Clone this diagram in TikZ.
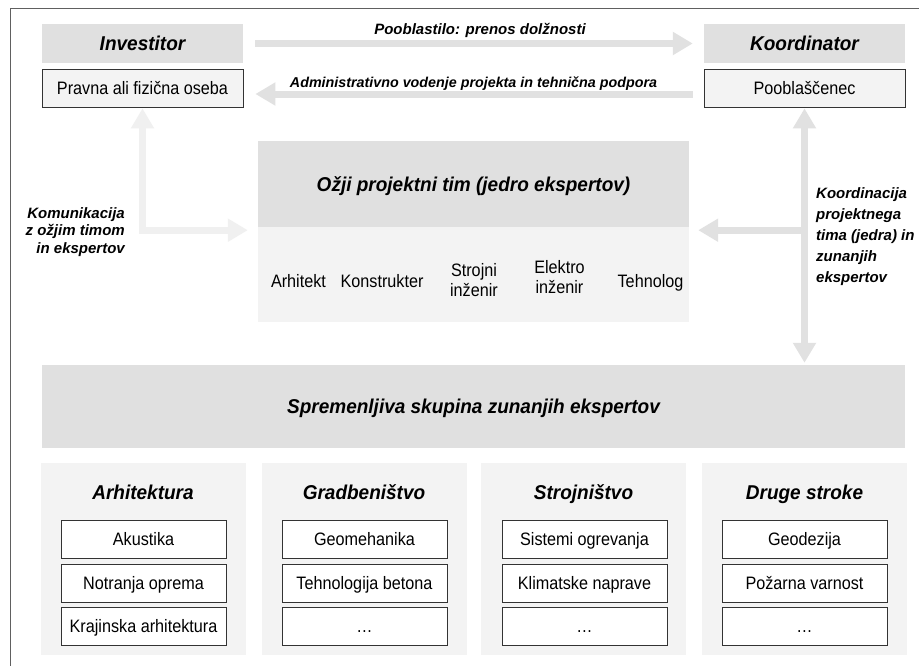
\documentclass[tikz,border=0pt]{standalone}
\usepackage{fontspec}
\setmainfont{Liberation Sans}
\newfontfamily\narrowfont[FakeStretch=0.9]{Liberation Sans}
\newfontfamily\hfamily[FakeStretch=0.95]{Liberation Sans}
\usetikzlibrary{arrows.meta}
\definecolor{hdrgray}{HTML}{E0E0E0}
\definecolor{bodygray}{HTML}{F3F3F3}
\definecolor{arrgray}{HTML}{E1E1E1}
\definecolor{arrlight}{HTML}{F0F0F0}
\definecolor{boxline}{HTML}{333333}
\definecolor{frameline}{HTML}{606060}
\newcommand\hdrfont{\hfamily\fontsize{20}{24}\selectfont\bfseries\itshape}
\newcommand\lblfont{\fontsize{15}{17.5}\selectfont\bfseries\itshape}
\newcommand\lblfontS{\fontsize{14.3}{17.5}\selectfont\bfseries\itshape}
\newcommand\lblfontB{\fontsize{15}{21}\selectfont\bfseries\itshape}
\newcommand\regfont{\narrowfont\fontsize{18}{19.5}\selectfont}
\tikzset{
  hdr/.style={fill=hdrgray, inner sep=0pt, font=\hdrfont, text height=14.3pt, text depth=0pt},
  bodybox/.style={fill=bodygray, inner sep=0pt},
  wbox/.style={draw=boxline, fill=bodygray, line width=0.8pt, inner sep=0pt, font=\regfont, text height=12.9pt, text depth=0pt, minimum width=201pt, minimum height=38pt},
  itembox/.style={draw=boxline, fill=white, line width=0.8pt, inner sep=0pt, font=\regfont, text height=12.9pt, text depth=0pt, minimum width=165pt, minimum height=38pt},
  grp/.style={fill=bodygray, inner sep=0pt, minimum width=205pt, minimum height=192pt},
  grptitle/.style={font=\hdrfont, inner sep=0pt, anchor=base},
  item/.style={font=\regfont, inner sep=0pt, align=center, anchor=base},
  lbl/.style={font=\lblfont, inner sep=0pt},
  conn/.style={draw=arrgray, line width=7pt},
  connlight/.style={draw=arrlight, line width=7pt},
  tipA/.tip={Triangle[width=22pt,length=20pt]}
}
\begin{document}
\begin{tikzpicture}[x=1pt,y=-1pt]
\useasboundingbox (0,0) rectangle (919,665);
\clip (0,0) rectangle (919,665);
\fill[white] (0,0) rectangle (919,665);
\draw[frameline, line width=1.3pt] (10.5,8.5) rectangle (940,690);

% top row
\node[hdr, minimum width=201pt, minimum height=39pt] (inv) at (142.5,43.5) {Investitor};
\node[wbox] (prav) at (142.5,88) {Pravna ali fizična oseba};
\node[hdr, minimum width=201pt, minimum height=39pt] (koo) at (804.5,43.5) {Koordinator};
\node[wbox] (poo) at (804.5,88) {Pooblaščenec};

% core team
\node[hdr, minimum width=431pt, minimum height=86pt] (ozh) at (473.5,184) {Ožji projektni tim (jedro ekspertov)};
\node[bodybox, minimum width=431pt, minimum height=95pt] (ozb) at (473.5,274.5) {};
\node[item] (i1) at (298.5,287) {Arhitekt};
\node[item] (i2) at (382,287) {Konstrukter};
\node[item] (i3) at (474,296) {Strojni\\inženir};
\node[item] (i4) at (559.5,293) {Elektro\\inženir};
\node[item] (i5) at (650.5,287) {Tehnolog};

% external experts
\node[hdr, minimum width=863pt, minimum height=83pt] (spr) at (473.5,406.5) {Spremenljiva skupina zunanjih ekspertov};

\node[grp] (g1) at (143,559) {};
\node[grp] (g2) at (364,559) {};
\node[grp] (g3) at (583.5,559) {};
\node[grp] (g4) at (804.5,559) {};

\node[grptitle] (t1) at (143,499) {Arhitektura};
\node[grptitle] (t2) at (364,499) {Gradbeništvo};
\node[grptitle] (t3) at (583.5,499) {Strojništvo};
\node[grptitle] (t4) at (804.5,499) {Druge stroke};

\node[itembox] (a1) at (143.5,539) {Akustika};
\node[itembox] (a2) at (143.5,583) {Notranja oprema};
\node[itembox] (a3) at (143.5,626.5) {Krajinska arhitektura};
\node[itembox] (b1) at (364.5,539) {Geomehanika};
\node[itembox] (b2) at (364.5,583) {Tehnologija betona};
\node[itembox] (b3) at (364.5,626.5) {\dots};
\node[itembox] (c1) at (584.5,539) {Sistemi ogrevanja};
\node[itembox] (c2) at (584.5,583) {Klimatske naprave};
\node[itembox] (c3) at (584.5,626.5) {\dots};
\node[itembox] (d1) at (804.5,539) {Geodezija};
\node[itembox] (d2) at (804.5,583) {Požarna varnost};
\node[itembox] (d3) at (804.5,626.5) {\dots};

% connectors
\draw[conn, -tipA, shorten <=12pt, shorten >=11pt] (inv.east) -- (koo.west);
\draw[conn, -tipA, shorten <=11pt, shorten >=12pt] ([yshift=-6pt]poo.west) -- ([yshift=-6pt]prav.east);
\node[lbl, anchor=base] (l1) at (480,34) {Pooblastilo: prenos dolžnosti};
\node[lbl, font=\lblfontS, anchor=base] (l2) at (473.5,87) {Administrativno vodenje projekta in tehnična podpora};

\coordinate (lc) at ([yshift=-3pt]ozh.south west);
\draw[connlight, tipA-tipA, shorten <=1pt, shorten >=10pt] (prav.south) |- (lc);
\node[lbl, align=right, anchor=north east] (l3) at (125,207) {Komunikacija\\z ožjim timom\\in ekspertov};

\coordinate (rb) at (poo.south |- spr.north);
\draw[conn, tipA-tipA, shorten <=1pt, shorten >=2pt] (poo.south) -- (rb);
\coordinate (rc) at (poo.south |- ozh.south east);
\draw[conn, -tipA, shorten >=9pt] ([yshift=-3pt]rc) -- ([yshift=-3pt]ozh.south east);
\node[font=\lblfontB, inner sep=0pt, align=left, anchor=north west] (l4) at (816,187) {Koordinacija\\projektnega\\tima (jedra) in\\zunanjih\\ekspertov};
\end{tikzpicture}
\end{document}
